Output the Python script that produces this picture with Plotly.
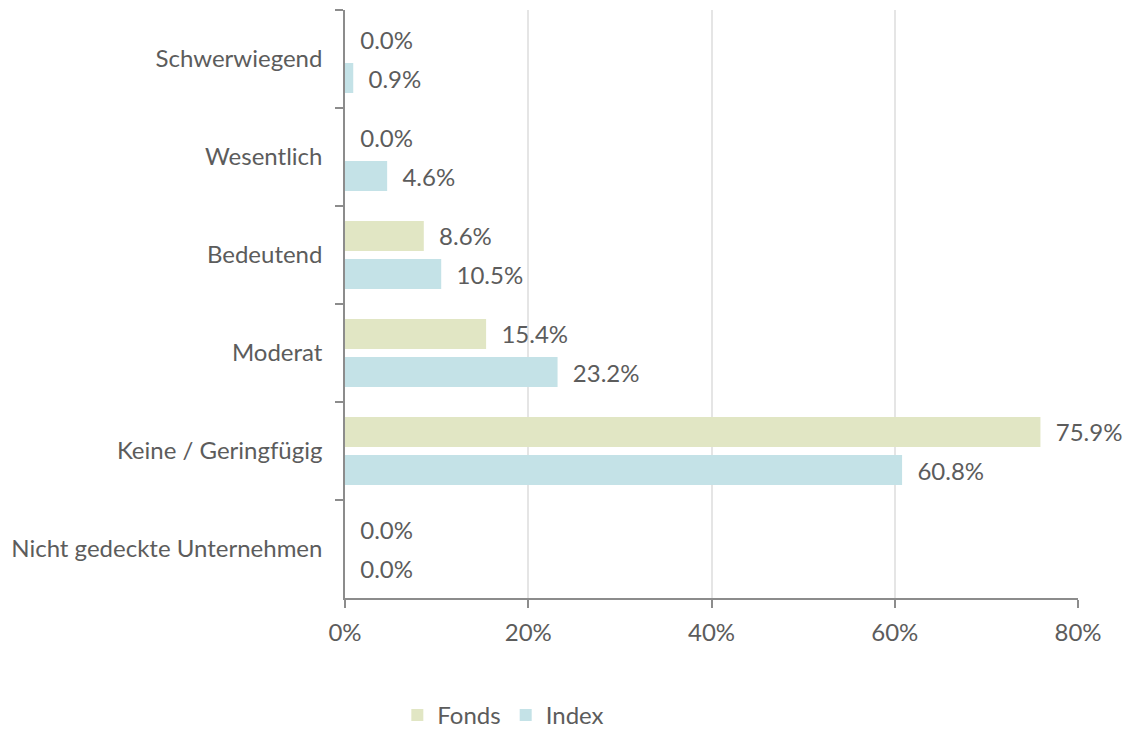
import plotly.graph_objects as go

# --- data ---
categories = ["Schwerwiegend", "Wesentlich", "Bedeutend", "Moderat",
              "Keine / Geringfügig", "Nicht gedeckte Unternehmen"]
fonds = [0.0, 0.0, 8.6, 15.4, 75.9, 0.0]
index = [0.9, 4.6, 10.5, 23.2, 60.8, 0.0]
x_ticks = [0, 20, 40, 60, 80]
x_tick_labels = ["0%", "20%", "40%", "60%", "80%"]

COLORS = {
    'fonds': '#e1e6c4',
    'index': '#c4e2e7',
    'text': '#5c5c5c',
    'axis': '#8c8c8c',
    'grid': '#e5e5e5',
}
FONT = "Lato, 'Open Sans', sans-serif"
FS = 24
PAD = "\u00a0\u00a0"

fig = go.Figure()
for name, vals, col in [("Fonds", fonds, COLORS['fonds']), ("Index", index, COLORS['index'])]:
    fig.add_trace(go.Bar(
        y=categories, x=vals, name=name, orientation='h',
        marker=dict(color=col, line=dict(width=0)),
        text=[f"{PAD}{v:.1f}%" for v in vals],
        textposition='outside', cliponaxis=False,
        textfont=dict(family=FONT, size=FS, color=COLORS['text']),
    ))

# page body has an 8px margin, so the figure is shrunk by that much
fig.update_layout(
    barmode='group', bargap=0.224, bargroupgap=0.21,
    width=1127, height=727,
    paper_bgcolor='white', plot_bgcolor='white',
    font=dict(family=FONT, size=FS, color=COLORS['text']),
    margin=dict(l=337, r=57, t=2, b=137),
    legend=dict(
        orientation='h', x=0.216, xanchor='center',
        yref='container', y=0.027, yanchor='middle',
        font=dict(family=FONT, size=FS, color=COLORS['text']),
        itemwidth=30, traceorder='normal',
    ),
)

fig.update_xaxes(
    range=[0, 80], tickvals=x_ticks, ticktext=x_tick_labels,
    showgrid=True, gridcolor=COLORS['grid'], gridwidth=2,
    zeroline=False, showline=True, linecolor=COLORS['axis'], linewidth=1.5,
    ticks='outside', ticklen=8, tickcolor=COLORS['axis'], tickwidth=1.5,
    ticklabelstandoff=4,
    tickfont=dict(family=FONT, size=FS, color=COLORS['text']),
)
fig.update_yaxes(
    autorange='reversed', tickson='boundaries',
    showline=True, linecolor=COLORS['axis'], linewidth=1.5,
    ticks='outside', ticklen=8, tickcolor=COLORS['axis'], tickwidth=1.5,
    showgrid=False, ticklabelstandoff=16,
    tickfont=dict(family=FONT, size=FS, color=COLORS['text']),
)

fig.write_html("out.html")
